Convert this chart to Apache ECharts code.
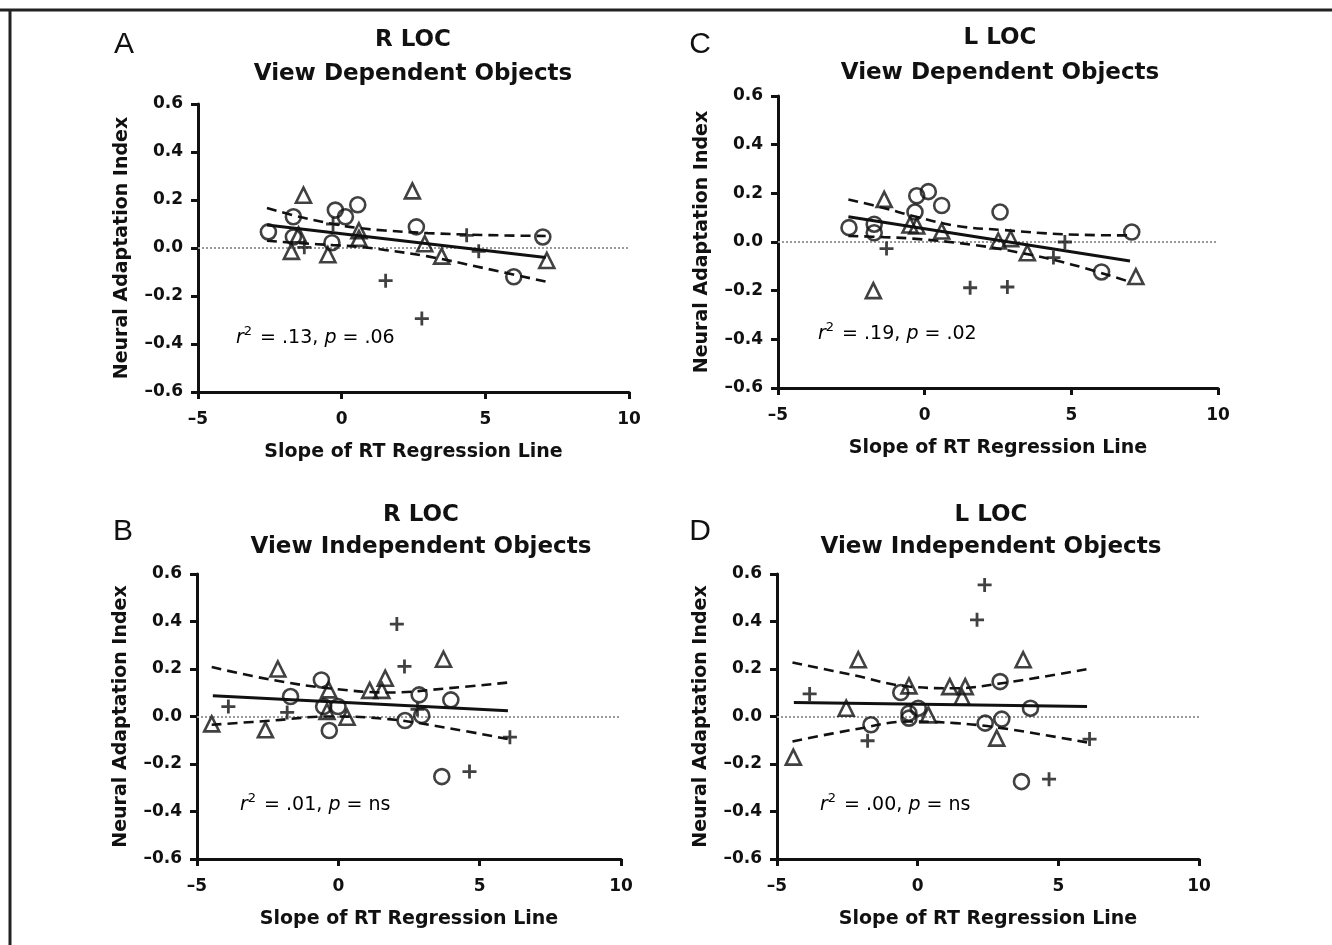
<!DOCTYPE html>
<html>
<head>
<meta charset="utf-8">
<script src="https://cdn.jsdelivr.net/npm/echarts@6/dist/echarts.min.js"></script>
<style>
html,body{margin:0;padding:0;background:#fff;}
#chart{width:1332px;height:945px;}
</style>
</head>
<body>
<div id="chart"></div>
<script>
// ---------- tick labels ----------
const xTicks = [-5, 0, 5, 10];
const yTicks = [-0.6, -0.4, -0.2, 0.0, 0.2, 0.4, 0.6];

// ---------- Panel A: R LOC, view dependent ----------
const aCircles = [[-2.55,0.067],[-1.68,0.13],[-1.68,0.046],[-0.22,0.158],[0.13,0.13],[0.56,0.18],[-0.34,0.022],[2.6,0.088],[7.0,0.046],[5.99,-0.12]];
const aTriangles = [[-1.33,0.22],[2.46,0.238],[-1.75,-0.014],[-0.48,-0.028],[0.6,0.072],[0.6,0.04],[2.89,0.018],[3.48,-0.034],[7.14,-0.052],[-1.5,0.055]];
const aPluses = [[4.35,0.053],[4.77,-0.014],[1.53,-0.136],[2.79,-0.294],[-1.3,0.003],[-0.3,0.1]];
const aFit = [[-2.6,0.096],[7.1,-0.04]];
const aUpper = [[-2.6,0.167],[-1.4,0.128],[-0.3,0.1],[0.6,0.083],[1.5,0.073],[3.0,0.062],[5.0,0.054],[7.1,0.05]];
const aLower = [[-2.6,0.03],[-1.4,0.02],[-0.3,0.012],[0.6,0.005],[1.5,-0.008],[3.0,-0.035],[5.0,-0.085],[7.1,-0.14]];

// ---------- Panel C: L LOC, view dependent ----------
const cCircles = [[-2.58,0.059],[-1.72,0.073],[-1.72,0.038],[-0.27,0.19],[0.125,0.207],[0.58,0.15],[-0.33,0.123],[2.57,0.123],[7.06,0.041],[6.03,-0.123]];
const cTriangles = [[-1.38,0.175],[-1.75,-0.2],[0.58,0.045],[-0.27,0.066],[-0.5,0.07],[2.51,0.004],[2.93,0.014],[3.5,-0.044],[7.2,-0.142]];
const cPluses = [[-1.3,-0.027],[1.55,-0.188],[2.82,-0.185],[4.78,0.0],[4.39,-0.064]];
const cFit = [[-2.6,0.104],[7.0,-0.078]];
const cUpper = [[-2.6,0.175],[-1.4,0.14],[-0.4,0.107],[1.1,0.066],[2.7,0.049],[4.7,0.032],[7.0,0.027]];
const cLower = [[-2.6,0.025],[-1.4,0.02],[-0.4,0.014],[1.55,-0.01],[3.25,-0.044],[5.0,-0.092],[7.0,-0.164]];

// ---------- Panel B: R LOC, view independent ----------
const bCircles = [[-1.69,0.084],[-0.6,0.154],[-0.52,0.042],[-0.01,0.042],[-0.32,-0.059],[2.86,0.091],[2.95,0.004],[2.36,-0.017],[3.98,0.07],[3.66,-0.253]];
const bTriangles = [[-4.48,-0.031],[-2.58,-0.056],[-2.14,0.2],[-0.34,0.112],[-0.4,0.021],[0.31,-0.003],[1.11,0.11],[1.54,0.11],[1.66,0.161],[3.72,0.241]];
const bPluses = [[-3.89,0.042],[-1.81,0.017],[2.07,0.389],[2.34,0.211],[6.07,-0.087],[4.64,-0.232],[2.8,0.03]];
const bFit = [[-4.44,0.087],[6.0,0.024]];
const bUpper = [[-4.48,0.208],[-2.34,0.154],[-0.34,0.119],[1.78,0.101],[3.89,0.119],[6.0,0.143]];
const bLower = [[-4.48,-0.035],[-2.34,-0.017],[-0.34,0.0],[1.78,-0.011],[3.89,-0.049],[6.0,-0.095]];

// ---------- Panel D: L LOC, view independent ----------
const dCircles = [[-0.6,0.101],[-0.31,0.014],[-0.31,-0.007],[0.02,0.035],[-1.66,-0.035],[2.93,0.147],[2.4,-0.028],[2.99,-0.011],[4.01,0.035],[3.69,-0.274]];
const dTriangles = [[-4.42,-0.171],[-2.54,0.035],[-2.11,0.239],[-0.31,0.129],[0.38,0.007],[1.14,0.126],[1.69,0.126],[1.58,0.081],[2.81,-0.091],[3.75,0.239]];
const dPluses = [[-3.84,0.095],[-1.78,-0.102],[2.38,0.554],[2.11,0.407],[6.11,-0.095],[4.67,-0.264]];
const dFit = [[-4.4,0.059],[6.02,0.042]];
const dUpper = [[-4.45,0.227],[-2.31,0.175],[-0.31,0.126],[1.34,0.119],[2.99,0.14],[6.02,0.199]];
const dLower = [[-4.45,-0.105],[-2.31,-0.056],[-0.31,-0.021],[1.34,-0.028],[2.99,-0.049],[6.02,-0.109]];

// ---------- text ----------
const panelLetters = ['A','C','B','D'];
const regionTitles = ['R LOC','L LOC','R LOC','L LOC'];
const objectTitles = ['View Dependent Objects','View Dependent Objects','View Independent Objects','View Independent Objects'];
const r2Values = ['.13','.19','.01','.00'];
const pValues = ['.06','.02','ns','ns'];
const xAxisTitle = 'Slope of RT Regression Line';
const yAxisTitle = 'Neural Adaptation Index';

const panels = [
  {c:aCircles,t:aTriangles,p:aPluses,fit:aFit,up:aUpper,lo:aLower},
  {c:cCircles,t:cTriangles,p:cPluses,fit:cFit,up:cUpper,lo:cLower},
  {c:bCircles,t:bTriangles,p:bPluses,fit:bFit,up:bUpper,lo:bLower},
  {c:dCircles,t:dTriangles,p:dPluses,fit:dFit,up:dUpper,lo:dLower}
];

// ---------- layout ----------
const BFONT = '"DejaVu Sans", "Liberation Sans", Arial, sans-serif';
const LFONT = '"Liberation Sans", Arial, Helvetica, sans-serif';
const INK = '#111';
const grids = [
  {left:198, top:104, width:431, height:288},
  {left:778, top:96,  width:440, height:292},
  {left:197, top:574, width:424, height:285},
  {left:777, top:574, width:422, height:285}
];
const titleCenters = [413, 1000, 421, 991];
const titleY = [[40,74],[38,73],[515,547],[515,547]];
const letterPos = [[124,45],[700,45],[123,532],[700,532]];
const annotPos = [[236,338],[818,334],[240,805],[820,805]];

const PLUS = 'path://M40,0H60V40H100V60H60V100H40V60H0V40H40Z';

const xAxes = [], yAxes = [], series = [], graphics = [];

grids.forEach((g, i) => {
  xAxes.push({
    gridIndex:i, type:'value', min:xTicks[0], max:xTicks[xTicks.length-1], interval:5,
    name:xAxisTitle, nameLocation:'middle', nameGap:51,
    nameTextStyle:{fontFamily:BFONT, fontWeight:'bold', fontSize:19, color:INK},
    axisLine:{show:true, onZero:false, lineStyle:{color:INK, width:3}},
    axisTick:{show:true, length:7, lineStyle:{color:INK, width:3}},
    axisLabel:{fontFamily:BFONT, fontWeight:'bold', fontSize:17, color:INK, margin:19,
      formatter:v => (v<0 ? '\u2013'+Math.abs(v) : String(v))},
    splitLine:{show:false}
  });
  yAxes.push({
    gridIndex:i, type:'value', min:yTicks[0], max:yTicks[yTicks.length-1], interval:0.2,
    name:yAxisTitle, nameLocation:'middle', nameGap:66, nameRotate:90,
    nameTextStyle:{fontFamily:BFONT, fontWeight:'bold', fontSize:19, color:INK},
    axisLine:{show:true, onZero:false, lineStyle:{color:INK, width:3}},
    axisTick:{show:true, length:7, lineStyle:{color:INK, width:3}},
    axisLabel:{fontFamily:BFONT, fontWeight:'bold', fontSize:17, color:INK, margin:15,
      formatter:v => { const s = Math.abs(v).toFixed(1); return v < -1e-9 ? '\u2013'+s : s; }},
    splitLine:{show:false}
  });

  const P = panels[i];
  const base = {xAxisIndex:i, yAxisIndex:i, silent:true, animation:false};
  series.push(Object.assign({}, base, {
    type:'line', data:P.fit, showSymbol:false, symbol:'none', z:3,
    lineStyle:{color:INK, width:3},
    markLine:{silent:true, symbol:'none', label:{show:false},
      lineStyle:{color:'#9a9a9a', width:2, type:'dotted'}, data:[{yAxis:0}], z:1}
  }));
  series.push(Object.assign({}, base, {
    type:'line', data:P.up, smooth:0.4, showSymbol:false, symbol:'none', z:3,
    lineStyle:{color:INK, width:2.6, type:[10,6]}
  }));
  series.push(Object.assign({}, base, {
    type:'line', data:P.lo, smooth:0.4, showSymbol:false, symbol:'none', z:3,
    lineStyle:{color:INK, width:2.6, type:[10,6]}
  }));
  series.push(Object.assign({}, base, {
    type:'scatter', data:P.c, symbol:'circle', symbolSize:15, z:4,
    itemStyle:{color:'rgba(0,0,0,0)', borderColor:INK, borderWidth:2.6}
  }));
  series.push(Object.assign({}, base, {
    type:'scatter', data:P.t, symbol:'triangle', symbolSize:15, z:4,
    itemStyle:{color:'rgba(0,0,0,0)', borderColor:INK, borderWidth:2.6}
  }));
  series.push(Object.assign({}, base, {
    type:'scatter', data:P.p, symbol:PLUS, symbolSize:14, z:4,
    itemStyle:{color:INK, borderWidth:0}
  }));

  graphics.push({type:'text', x:titleCenters[i], y:titleY[i][0], style:{
    text:regionTitles[i], font:'bold 23px '+BFONT, fill:INK, align:'center', verticalAlign:'middle'}});
  graphics.push({type:'text', x:titleCenters[i], y:titleY[i][1], style:{
    text:objectTitles[i], font:'bold 23px '+BFONT, fill:INK, align:'center', verticalAlign:'middle'}});
  graphics.push({type:'text', x:letterPos[i][0], y:letterPos[i][1], style:{
    text:panelLetters[i], font:'30px '+LFONT, fill:INK, align:'center', verticalAlign:'middle'}});
  graphics.push({type:'text', x:annotPos[i][0], y:annotPos[i][1], style:{
    text:'{i|r}{s|2}{n| = '+r2Values[i]+', }{i|p}{n| = '+pValues[i]+'}',
    align:'left', verticalAlign:'middle',
    rich:{
      i:{fontFamily:BFONT, fontStyle:'italic', fontSize:19, color:INK},
      s:{fontFamily:BFONT, fontSize:13, color:INK, padding:[0,2,12,0]},
      n:{fontFamily:BFONT, fontSize:19, color:INK}
    }}});
});

// frame lines
graphics.push({type:'line', shape:{x1:0, y1:10, x2:1332, y2:10}, style:{stroke:'#222', lineWidth:3}});
graphics.push({type:'line', shape:{x1:10, y1:10, x2:10, y2:945}, style:{stroke:'#222', lineWidth:3}});

const chart = echarts.init(document.getElementById('chart'), null, {renderer:'canvas'});
chart.setOption({
  backgroundColor:'#fff',
  animation:false,
  grid:grids.map(g => Object.assign({containLabel:false}, g)),
  xAxis:xAxes,
  yAxis:yAxes,
  series:series,
  graphic:graphics
});
</script>
</body>
</html>
